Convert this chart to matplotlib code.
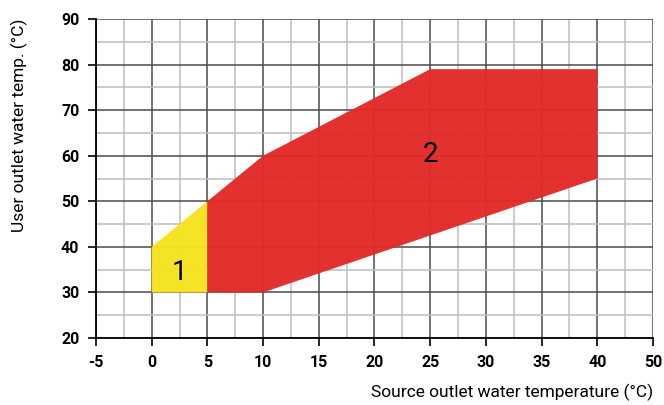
import matplotlib.pyplot as plt
from matplotlib.patches import Polygon
from matplotlib.ticker import MultipleLocator

# operating envelope, (source outlet temp, user outlet temp)
zone1_x = [0, 5, 5, 0]
zone1_y = [30, 30, 50, 40]
zone2_x = [5, 10, 40, 40, 25, 10, 5]
zone2_y = [30, 30, 55, 79, 79, 60, 50]

x_ticks = [-5, 0, 5, 10, 15, 20, 25, 30, 35, 40, 45]
x_labels = ['-5', '0', '5', '10', '15', '20', '25', '30', '35', '40', '50']
y_ticks = [20, 30, 40, 50, 60, 70, 80, 90]

plt.rcParams['font.family'] = ['Roboto', 'DejaVu Sans']

fig = plt.figure(figsize=(6.64, 4.05), dpi=100)
ax = fig.add_axes([0.1446, 0.1654, 0.8388, 0.7876])

ax.add_patch(Polygon(list(zip(zone1_x, zone1_y)), closed=True,
                     facecolor='#f5e41f', edgecolor='none', zorder=3, alpha=0.97))
ax.add_patch(Polygon(list(zip(zone2_x, zone2_y)), closed=True,
                     facecolor='#e12a27', edgecolor='none', zorder=3, alpha=0.97))

ax.text(2.5, 34.3, '1', fontsize=20, ha='center', va='center', zorder=5)
ax.text(25, 60.3, '2', fontsize=20, ha='center', va='center', zorder=5)

ax.set_xlim(-5, 45)
ax.set_ylim(20, 90)
ax.set_xticks(x_ticks)
ax.set_xticklabels(x_labels)
ax.set_yticks(y_ticks)
ax.xaxis.set_minor_locator(MultipleLocator(2.5))
ax.yaxis.set_minor_locator(MultipleLocator(5))

ax.grid(True, which='major', color='#4a4a4a', linewidth=1.1, zorder=1)
ax.grid(True, which='minor', color='#bdbdbd', linewidth=1.1, zorder=1)
ax.set_axisbelow(True)

for s in ['top', 'right']:
    ax.spines[s].set_visible(False)
for s in ['left', 'bottom']:
    ax.spines[s].set_linewidth(1.3)
    ax.spines[s].set_zorder(6)

ax.tick_params(which='major', direction='out', length=6, width=1.2,
               labelsize=11.5, pad=6)
ax.tick_params(which='minor', length=0)
for lab in ax.get_xticklabels() + ax.get_yticklabels():
    lab.set_fontweight('bold')

ax.set_xlabel('Source outlet water temperature (°C)', fontsize=12.5, loc='right', labelpad=10)
ax.set_ylabel('User outlet water temp. (°C)', fontsize=12.5, loc='top', labelpad=24)

fig.savefig('out.png', dpi=100)
